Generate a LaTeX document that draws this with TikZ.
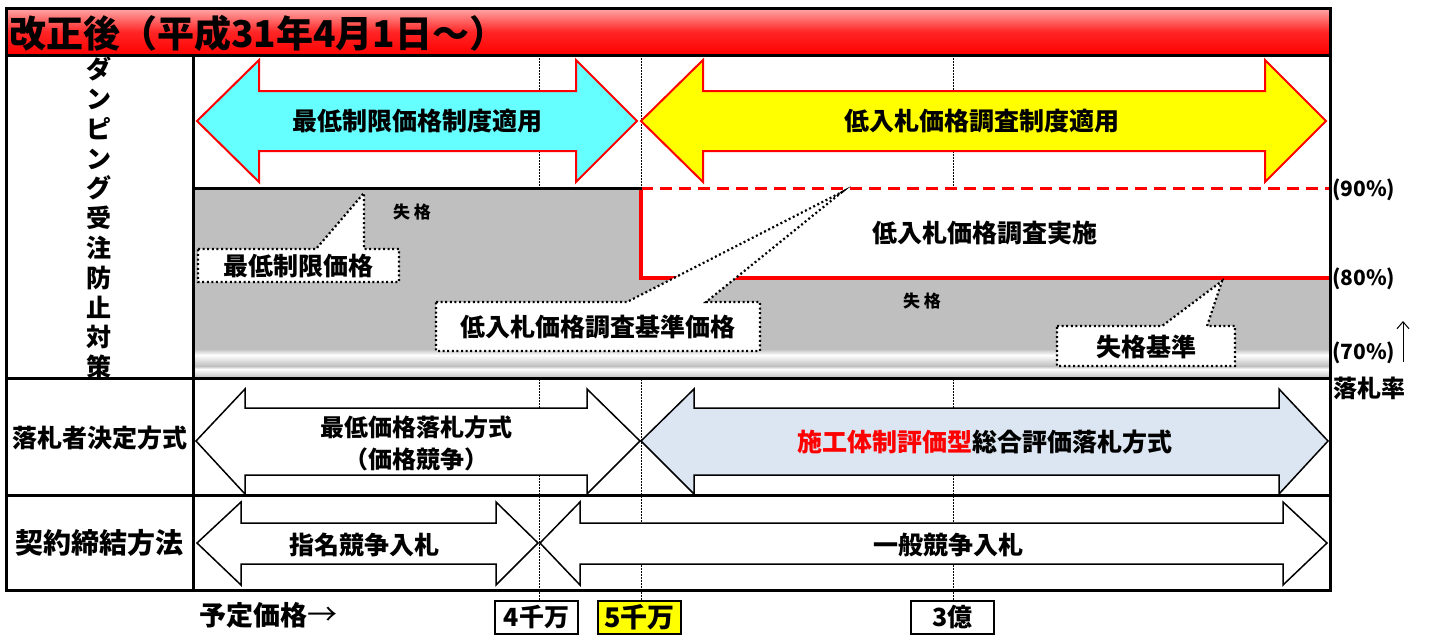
\documentclass[tikz,border=0pt]{standalone}
\usepackage{fontspec}
\setmainfont{Noto Sans CJK JP}
\usetikzlibrary{arrows.meta}
\definecolor{hdrtop}{RGB}{255,170,170}
\definecolor{hdrred}{RGB}{255,0,0}
\definecolor{cyanfill}{RGB}{102,255,255}
\definecolor{yelfill}{RGB}{255,255,0}
\definecolor{bluefill}{RGB}{220,230,242}
\definecolor{grayfill}{RGB}{191,191,191}
\begin{document}
\begin{tikzpicture}[x=1pt,y=-1pt,
  txt/.style={inner sep=0pt, font=\bfseries\fontsize{25}{30}\selectfont},
  small/.style={inner sep=0pt, font=\bfseries\fontsize{17}{20}\selectfont},
  pct/.style={inner sep=0pt, anchor=west, font=\bfseries\fontsize{21}{24}\selectfont},
  frame/.style={line width=3pt, black},
  dotline/.style={line width=1pt, black, dash pattern=on 1.5pt off 1.5pt},
  redarrow/.style={draw=red, line width=2pt, line join=miter},
  blkarrow/.style={draw=black, line width=1.5pt, line join=miter, fill=white},
  callout/.style={draw=black, fill=white, line width=2.2pt, dash pattern=on 2pt off 2.6pt},
  pricebox/.style={draw=black, line width=1.5pt, fill=white, minimum width=83pt, minimum height=33pt, inner sep=0pt, font=\bfseries\fontsize{25}{28}\selectfont}
]
\useasboundingbox (0,0) rectangle (1429,641);
\fill[white] (0,0) rectangle (1429,641);

% header
\shade[top color=hdrtop, bottom color=hdrred, middle color=hdrred!85!white] (6,8) rectangle (1330,55);
\node[anchor=west, inner sep=0pt, font=\bfseries\fontsize{37}{40}\selectfont] (hdr) at (9,33) {改正後（平成31年4月1日～）};

% price boxes
\node[pricebox] (b4) at (536.5,617.5) {4千万};
\node[pricebox, fill=yelfill, font=\bfseries\fontsize{27}{30}\selectfont] (b5) at (639.5,617.5) {5千万};
\node[pricebox] (b3) at (952.5,617.5) {3億};
\node[anchor=west, inner sep=0pt, font=\bfseries\fontsize{27}{30}\selectfont] (yotei) at (199,615) {予定価格{\mdseries\fontsize{30}{30}\selectfont →}};

% dotted vertical guide lines
\coordinate (g4) at (539,55);
\coordinate (g5) at (641,55);
\coordinate (g3) at (953,55);
\draw[dotline] (g4) -- (g4 |- b4.north);
\draw[dotline] (g5) -- (g5 |- b5.north);
\draw[dotline] (g3) -- (g3 |- b3.north);

% gray failure region
\fill[grayfill] (193,188) rectangle (1330,378);
\shade[top color=grayfill, bottom color=white] (193,349) rectangle (1330,355);
\shade[top color=white, bottom color=grayfill] (193,355) rectangle (1330,366);
\shade[top color=grayfill, bottom color=white] (193,366) rectangle (1330,369);
\shade[top color=white, bottom color=grayfill] (193,369) rectangle (1330,378);

% low bid investigation area
\fill[white] (641,188) rectangle (1330,278);
\draw[red, line width=3.5pt] (641,188) -- (641,278) -- (1330,278);
\draw[red, line width=3pt, dash pattern=on 12pt off 7pt] (641,188) -- (1330,188);
\draw[black, line width=3pt] (193,188) -- (642,188);

% top arrows
\draw[redarrow, fill=cyanfill] (197,121) -- (259,60) -- (259,91) -- (576,91) -- (576,60) -- (637,121) -- (576,182) -- (576,151) -- (259,151) -- (259,182) -- cycle;
\node[txt] (tCyan) at (417,121) {最低制限価格制度適用};
\draw[redarrow, fill=yelfill] (641,121) -- (703,60) -- (703,91) -- (1265,91) -- (1265,60) -- (1326,121) -- (1265,182) -- (1265,151) -- (703,151) -- (703,182) -- cycle;
\node[txt] (tYel) at (982,121) {低入札価格調査制度適用};

% gray-area texts
\node[small] (sk1) at (412,212) {失\ 格};
\node[small] (sk2) at (922,301) {失\ 格};
\node[txt] (tChosa) at (985,233) {低入札価格調査実施};

% callouts
\draw[callout] (198,249) -- (316,249) -- (364,193) -- (364,249) -- (399,249) -- (399,282) -- (198,282) -- cycle;
\node[txt] (co1) at (298,266) {最低制限価格};
\draw[callout] (436,302) -- (627,302) -- (842,192) -- (706,302) -- (760,302) -- (760,351) -- (436,351) -- cycle;
\node[txt] (co2) at (598,327) {低入札価格調査基準価格};
\draw[callout] (1057,326) -- (1162,326) -- (1222,281) -- (1207,326) -- (1235,326) -- (1235,366) -- (1057,366) -- cycle;
\node[txt] (co3) at (1146,347) {失格基準};

% row 2 arrows
\draw[blkarrow] (196,441) -- (245,389) -- (245,408) -- (587,408) -- (587,389) -- (640,441) -- (587,494) -- (587,475) -- (245,475) -- (245,494) -- cycle;
\node[txt, font=\bfseries\fontsize{24}{28}\selectfont] (t2a) at (416,427) {最低価格落札方式};
\node[txt, font=\bfseries\fontsize{24}{28}\selectfont] (t2b) at (416,459) {（価格競争）};
\draw[blkarrow, fill=bluefill] (641,441) -- (694,389) -- (694,408) -- (1279,408) -- (1279,389) -- (1328,441) -- (1279,494) -- (1279,475) -- (694,475) -- (694,494) -- cycle;
\node[txt] (t2blue) at (985,442) {\textcolor{red}{施工体制評価型}総合評価落札方式};

% row 3 arrows
\draw[blkarrow] (197,543) -- (241,502) -- (241,523) -- (496,523) -- (496,502) -- (538,543) -- (496,585) -- (496,564) -- (241,564) -- (241,585) -- cycle;
\node[txt] (t3a) at (364,545) {指名競争入札};
\draw[blkarrow] (540,543) -- (580,502) -- (580,523) -- (1283,523) -- (1283,502) -- (1327,543) -- (1283,585) -- (1283,564) -- (580,564) -- (580,585) -- cycle;
\node[txt] (t3b) at (948,545) {一般競争入札};

% left column labels
\node[inner sep=0pt, align=center, font=\bfseries\fontsize{25}{29.8}\selectfont] (vt) at (99,218) {ダ\\ン\\ピ\\ン\\グ\\受\\注\\防\\止\\対\\策};
\node[txt] (rl2) at (100,438) {落札者決定方式};
\node[txt, font=\bfseries\fontsize{28}{32}\selectfont] (rl3) at (100,543) {契約締結方法};

% right labels
\node[pct] (p90) at (1332,190) {(90\%)};
\node[pct] (p80) at (1332,279) {(80\%)};
\node[pct] (p70) at (1332,353) {(70\%)};
\node[anchor=west, inner sep=0pt, font=\bfseries\fontsize{24}{28}\selectfont] (rate) at (1333,388) {落札率};
\coordinate (upA) at (1403,362);
\coordinate (upB) at (1403,321);
\draw[line width=1pt, -{Straight Barb[length=7pt,width=12pt]}] (upA) -- (upB);

% frame
\draw[frame] (6,8) rectangle (1330,590);
\draw[frame] (6,55) -- (1330,55);
\draw[frame] (193,55) -- (193,590);
\draw[frame] (6,378) -- (1330,378);
\draw[frame] (6,495) -- (1330,495);
\end{tikzpicture}
\end{document}
